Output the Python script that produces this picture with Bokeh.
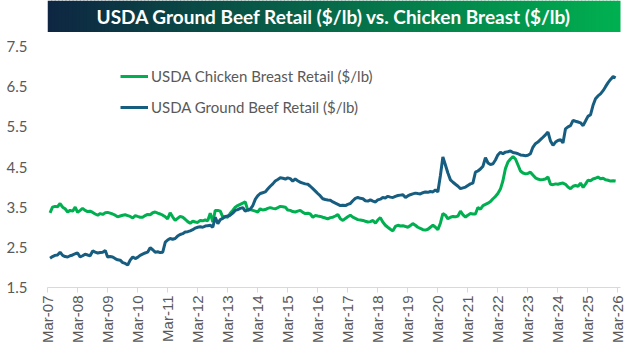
import pandas as pd
from bokeh.plotting import figure
from bokeh.layouts import column
from bokeh.models import Range1d, FixedTicker, DatetimeTickFormatter, Legend, LegendItem
from bokeh.core.properties import value
from bokeh.embed import file_html
from bokeh.resources import INLINE

title_text = "USDA Ground Beef Retail ($/lb) vs. Chicken Breast ($/lb)"
chicken_label = "USDA Chicken Breast Retail ($/lb)"
beef_label = "USDA Ground Beef Retail ($/lb)"

start_month = "2007-04-01"
tick_labels = ["Mar-07", "Mar-08", "Mar-09", "Mar-10", "Mar-11", "Mar-12", "Mar-13",
               "Mar-14", "Mar-15", "Mar-16", "Mar-17", "Mar-18", "Mar-19", "Mar-20",
               "Mar-21", "Mar-22", "Mar-23", "Mar-24", "Mar-25", "Mar-26"]
y_ticks = [1.5, 2.5, 3.5, 4.5, 5.5, 6.5, 7.5]

beef = [
    2.23, 2.27, 2.30, 2.31, 2.38, 2.30, 2.27, 2.26, 2.29, 2.31, 2.34, 2.36,
    2.26, 2.29, 2.33, 2.31, 2.29, 2.41, 2.38, 2.36, 2.37, 2.38, 2.42, 2.26,
    2.27, 2.26, 2.22, 2.19, 2.18, 2.12, 2.10, 2.06, 2.18, 2.26, 2.22, 2.25,
    2.30, 2.33, 2.36, 2.38, 2.49, 2.44, 2.38, 2.39, 2.37, 2.38, 2.63, 2.68,
    2.72, 2.70, 2.72, 2.78, 2.82, 2.84, 2.88, 2.89, 2.91, 2.94, 2.98, 3.00,
    3.01, 3.00, 3.03, 3.04, 3.05, 3.00, 3.25, 3.09, 3.19, 3.22, 3.27, 3.28,
    3.30, 3.35, 3.42, 3.44, 3.47, 3.49, 3.40, 3.43, 3.45, 3.54, 3.70, 3.78,
    3.84, 3.86, 3.88, 3.95, 4.02, 4.08, 4.15, 4.19, 4.23, 4.22, 4.20, 4.23,
    4.21, 4.15, 4.20, 4.16, 4.12, 4.10, 4.08, 4.07, 4.02, 3.96, 3.90, 3.84,
    3.78, 3.71, 3.69, 3.68, 3.67, 3.63, 3.60, 3.57, 3.54, 3.55, 3.54, 3.57,
    3.59, 3.66, 3.72, 3.74, 3.72, 3.71, 3.66, 3.65, 3.68, 3.65, 3.63, 3.68,
    3.70, 3.74, 3.73, 3.77, 3.75, 3.74, 3.77, 3.79, 3.80, 3.81, 3.74, 3.78,
    3.81, 3.83, 3.85, 3.84, 3.83, 3.86, 3.88, 3.87, 3.89, 3.88, 3.93, 3.88,
    4.29, 4.75, 4.55, 4.35, 4.18, 4.12, 4.07, 4.02, 3.96, 3.98, 4.00, 4.04,
    4.08, 4.10, 4.37, 4.40, 4.45, 4.52, 4.73, 4.60, 4.56, 4.58, 4.68, 4.80,
    4.87, 4.83, 4.87, 4.88, 4.90, 4.86, 4.85, 4.83, 4.80, 4.79, 4.78, 4.79,
    4.83, 4.99, 5.08, 5.12, 5.18, 5.24, 5.30, 5.37, 5.15, 5.04, 5.12, 5.16,
    5.18, 5.10, 5.45, 5.50, 5.53, 5.66, 5.64, 5.62, 5.60, 5.53, 5.65, 5.76,
    5.80, 6.03, 6.20, 6.27, 6.32, 6.40, 6.50, 6.60, 6.68, 6.75, 6.72,
]

chicken = [
    3.36, 3.50, 3.52, 3.51, 3.59, 3.50, 3.46, 3.38, 3.42, 3.40, 3.50, 3.37,
    3.42, 3.47, 3.42, 3.39, 3.40, 3.37, 3.33, 3.30, 3.34, 3.32, 3.36, 3.37,
    3.35, 3.33, 3.30, 3.26, 3.28, 3.30, 3.31, 3.29, 3.27, 3.23, 3.29, 3.27,
    3.25, 3.25, 3.29, 3.32, 3.31, 3.36, 3.38, 3.35, 3.33, 3.30, 3.26, 3.21,
    3.36, 3.26, 3.17, 3.22, 3.27, 3.25, 3.20, 3.14, 3.10, 3.15, 3.13, 3.12,
    3.17, 3.16, 3.18, 3.16, 3.35, 3.13, 3.42, 3.42, 3.40, 3.25, 3.26, 3.25,
    3.35, 3.42, 3.50, 3.54, 3.57, 3.60, 3.63, 3.42, 3.44, 3.42, 3.40, 3.38,
    3.46, 3.43, 3.44, 3.47, 3.49, 3.47, 3.46, 3.49, 3.52, 3.51, 3.50, 3.43,
    3.42, 3.39, 3.38, 3.40, 3.42, 3.37, 3.34, 3.35, 3.33, 3.25, 3.29, 3.28,
    3.27, 3.25, 3.23, 3.21, 3.24, 3.25, 3.28, 3.32, 3.21, 3.17, 3.22, 3.26,
    3.30, 3.25, 3.22, 3.19, 3.18, 3.17, 3.15, 3.13, 3.14, 3.17, 3.10, 3.18,
    3.24, 3.13, 3.05, 3.00, 2.95, 2.91, 3.02, 3.05, 3.03, 3.04, 3.02, 3.00,
    3.04, 3.09, 3.05, 3.00, 2.97, 2.94, 2.93, 2.95, 3.00, 3.05, 3.00, 2.94,
    3.10, 3.34, 3.30, 3.21, 3.25, 3.27, 3.26, 3.28, 3.40, 3.31, 3.25, 3.30,
    3.34, 3.33, 3.33, 3.49, 3.45, 3.54, 3.57, 3.60, 3.64, 3.71, 3.77, 3.84,
    3.95, 4.15, 4.46, 4.62, 4.70, 4.76, 4.70, 4.55, 4.40, 4.35, 4.33, 4.34,
    4.37, 4.30, 4.23, 4.20, 4.18, 4.19, 4.20, 4.25, 4.07, 4.06, 4.08, 4.07,
    4.09, 4.10, 4.07, 4.00, 3.96, 4.02, 4.04, 4.02, 4.10, 3.99, 4.08, 4.17,
    4.16, 4.20, 4.22, 4.25, 4.21, 4.22, 4.18, 4.17, 4.15, 4.16, 4.15,
]

dates = pd.date_range(start_month, periods=len(beef), freq="MS")
tick_dates = [pd.Timestamp(2007 + i, 3, 1) for i in range(len(tick_labels))]
tick_ms = [t.value / 1e6 for t in tick_dates]

W = 639
TITLE_H = 32
MAIN_H = 351 - TITLE_H

# ---- title band with horizontal gradient ----
tp = figure(width=W, height=TITLE_H, x_range=Range1d(0, 1), y_range=Range1d(0, 1),
            output_backend="svg", toolbar_location=None,
            min_border=0, min_border_left=0, min_border_right=0,
            min_border_top=0, min_border_bottom=0)
tp.axis.visible = False
tp.grid.visible = False
tp.outline_line_color = None
left_c = (14, 38, 66)
right_c = (0, 176, 80)
n = 160
lefts, rights, cols = [], [], []
for i in range(n):
    f = i / (n - 1)
    c = tuple(int(round(left_c[k] + (right_c[k] - left_c[k]) * f)) for k in range(3))
    lefts.append(i / n)
    rights.append((i + 1) / n + 0.002)
    cols.append("#%02x%02x%02x" % c)
tp.quad(left=lefts, right=rights, bottom=0, top=1, fill_color=cols, line_color=None)
tp.text(x=[0.5], y=[0.5], text=[title_text], text_align="center", text_baseline="middle",
        text_color="white", text_font=value("Lato"), text_font_style="bold",
        text_font_size="19px")

# ---- main chart ----
p = figure(width=W, height=MAIN_H, x_axis_type="datetime",
           x_range=Range1d(pd.Timestamp("2007-03-01"), pd.Timestamp("2026-04-01")),
           y_range=Range1d(1.5, 7.5),
           output_backend="svg", toolbar_location=None,
           min_border_left=47, min_border_right=19, min_border_top=14, min_border_bottom=64)
p.outline_line_color = None
p.grid.visible = False
p.background_fill_color = "white"

r_chicken = p.line(dates, chicken, line_color="#00b050", line_width=3)
r_beef = p.line(dates, beef, line_color="#175d80", line_width=3)

xa = p.xaxis[0]
xa.ticker = FixedTicker(ticks=tick_ms)
xa.formatter = DatetimeTickFormatter(years="%b-%y", months="%b-%y", days="%b-%y",
                                     hours="%b-%y", minutes="%b-%y", seconds="%b-%y",
                                     milliseconds="%b-%y", microseconds="%b-%y")
xa.major_label_orientation = 1.5708
xa.axis_line_color = "#d9d9d9"
xa.major_tick_line_color = "#d9d9d9"
xa.major_tick_out = 5
xa.major_tick_in = 0
xa.minor_tick_line_color = None
xa.major_label_standoff = 3
xa.major_label_text_font = "Liberation Sans"
xa.major_label_text_font_size = "15px"
xa.major_label_text_color = "#595959"

ya = p.yaxis[0]
ya.ticker = FixedTicker(ticks=y_ticks)
ya.axis_line_color = None
ya.major_tick_line_color = None
ya.minor_tick_line_color = None
ya.major_label_standoff = 14
ya.major_label_text_font = "Lato"
ya.major_label_text_font_size = "15px"
ya.major_label_text_color = "#595959"

legend = Legend(items=[LegendItem(label=chicken_label, renderers=[r_chicken]),
                       LegendItem(label=beef_label, renderers=[r_beef])],
                location=(73, 170), padding=0, margin=0, spacing=11,
                glyph_width=28, glyph_height=20, label_height=20, label_standoff=3,
                label_text_font="Lato", label_text_font_size="15px",
                label_text_color="#595959", border_line_color=None,
                background_fill_alpha=0)
p.add_layout(legend)

layout = column(tp, p, spacing=0)
open("out.html", "w").write(file_html(layout, INLINE))
